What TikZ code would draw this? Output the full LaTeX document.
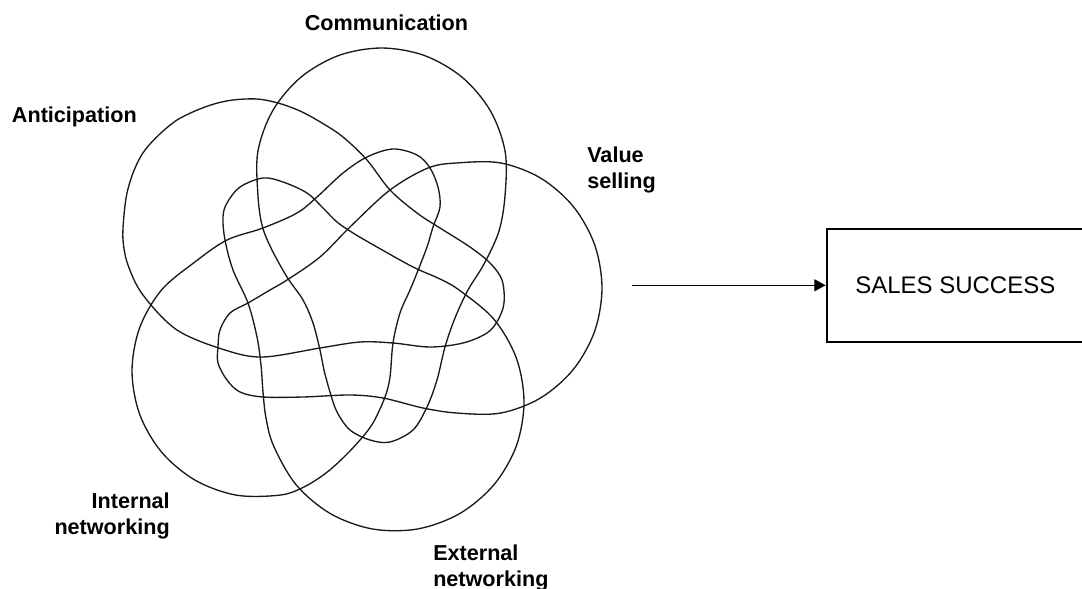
\documentclass[tikz,border=0pt]{standalone}
\usepackage{fontspec}
\setmainfont{Liberation Sans}
\usetikzlibrary{arrows.meta}
\begin{document}
\begin{tikzpicture}[x=0.75pt,y=-0.75pt,
  setcurve/.style={draw=black!90,line width=1pt},
  lbl/.style={inner sep=0pt,font=\fontsize{16.2}{19.5}\selectfont\bfseries},
  box/.style={draw=black,line width=1.5pt,minimum width=193pt,minimum height=84.5pt,inner sep=0pt,font=\fontsize{18}{21.6}\selectfont},
  conn/.style={draw=black,line width=0.9pt,-{Triangle[length=8.5pt,width=9pt]}}]
\useasboundingbox (0,0) rectangle (1082,589);

% Value selling
\draw[setcurve] plot[smooth cycle,tension=0.55] coordinates {(457.6,162.9) (500.4,162.9) (540.5,178) (573.2,206.4) (594.6,244.6) (602,288) (594.6,331.4) (573.2,369.6) (540.5,398) (500.4,413.1) (457.6,413.1) (423,408) (383,398) (350,395) (303,397) (263,397) (240,392) (227,380) (218,363) (218,347) (220,330) (230,313) (248,303) (270,290) (287,280) (320,257) (350,227) (390,190) (428,168)};
% Communication
\draw[setcurve] plot[smooth cycle,tension=0.55] coordinates {(257.9,151.3) (272.8,110.5) (300.8,77.3) (338.6,55.5) (381.5,48) (424.4,55.5) (462.2,77.3) (490.2,110.5) (505.1,151.3) (505.1,194.7) (499,231) (484,264) (468,290) (455,318) (445,347) (437,380) (427,407) (413,430) (390,442) (370,440) (350,430) (337,412) (330,392) (324,370) (320,350) (313,323) (303,300) (287,277) (271,248) (262,225) (257.9,194.7)};
% Anticipation
\draw[setcurve] plot[smooth cycle,tension=0.55] coordinates {(123,240) (124,215) (127,193) (133,173) (141,156) (150,144) (162,132) (177,120) (195,111) (214,104) (233,100) (257,99) (278,103) (300,111) (322,123) (343,137) (367,160) (390,190) (417,213) (440,228) (470,247) (490,263) (502,280) (504,303) (498,320) (487,333) (463,343) (430,347) (393,343) (360,342) (320,348) (263,357) (225,350) (177,330) (143,295) (128,265)};
% Internal networking
\draw[setcurve] plot[smooth cycle,tension=0.55] coordinates {(304,487) (279.9,495.1) (236.1,495.1) (195,480.1) (161.5,452) (139.6,414.1) (132,371) (139.6,327.9) (161.5,290) (195,261.9) (227,240) (263,228) (297,213) (317,197) (343,173) (367,157) (393,149) (417,155) (430,168) (438,187) (440,207) (433,227) (427,247) (417,273) (410,290) (400,313) (393,343) (390,377) (385,397) (373,423) (360,440) (344,457) (326,473)};
% External networking
\draw[setcurve] plot[smooth cycle,tension=0.55] coordinates {(459.5,290.3) (493.8,319.1) (516.3,357.9) (524,402) (516.3,446.1) (493.8,484.9) (459.5,513.7) (417.4,529) (372.6,529) (330.5,513.7) (296.2,484.9) (273.7,446.1) (266,418) (263,392) (261,365) (257,337) (248,303) (233,270) (225,240) (223,217) (227,203) (240,187) (263,178) (283,182) (307,193) (323,208) (337,222) (353,233) (377,247) (413,267) (440,279)};

% labels
\node[lbl,anchor=base] (lcom) at (386.5,30) {Communication};
\node[lbl,anchor=base west] (lant) at (11.7,122.7) {Anticipation};
\node[lbl,anchor=base west] (lval1) at (587,162) {Value};
\node[lbl,anchor=base west] (lval2) at (587,188) {selling};
\node[lbl,anchor=base east] (lint1) at (170,508) {Internal};
\node[lbl,anchor=base east] (lint2) at (170,534) {networking};
\node[lbl,anchor=base west] (lext1) at (433,560) {External};
\node[lbl,anchor=base west] (lext2) at (433,586) {networking};

% result box and arrow
\node[box] (sales) at (955.3,285.3) {SALES SUCCESS};
\coordinate (arrstart) at (632,285.3);
\draw[conn] (arrstart) -- (sales);
\end{tikzpicture}
\end{document}
